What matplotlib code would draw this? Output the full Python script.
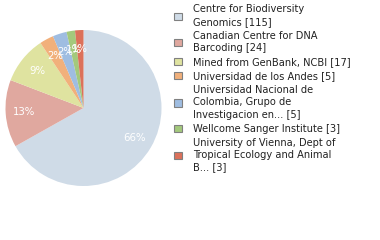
import matplotlib
matplotlib.use("Agg")
import matplotlib.pyplot as plt
from matplotlib.patches import Patch

labels = ["Centre for Biodiversity\nGenomics", "Canadian Centre for DNA\nBarcoding",
          "Mined from GenBank, NCBI", "Universidad de los Andes",
          "Universidad Nacional de\nColombia, Grupo de\nInvestigacion en...",
          "Wellcome Sanger Institute",
          "University of Vienna, Dept of\nTropical Ecology and Animal\nB..."]
counts = [115, 24, 17, 5, 5, 3, 3]
colors = ["#cfdbe7", "#e0a89f", "#dfe3a0", "#f1b07b", "#9fbde1", "#a3c97c", "#dc715a"]

total = sum(counts)
fig = plt.figure(figsize=(3.8, 2.4), dpi=100)
ax = fig.add_axes([5.5/380, 54/240, 156/380, 156/240])
wedges, texts, autotexts = ax.pie(
    counts, colors=colors, startangle=90, counterclock=False,
    autopct=lambda p: f"{int(p)}%", pctdistance=0.76,
    textprops=dict(color="white", fontsize=7.3, family="DejaVu Sans"),
    wedgeprops=dict(linewidth=0))
ax.set_xlim(-1, 1)
ax.set_ylim(-1, 1)
ax.set_aspect("equal")

handles = [Patch(facecolor=c, edgecolor="#808080", linewidth=0.8) for c in colors]
leg_labels = [f"{l} [{n}]" for l, n in zip(labels, counts)]
leg = fig.legend(handles, leg_labels, loc="upper left", bbox_to_anchor=(168/380, 1.0 + 2/240),
                 frameon=False, fontsize=7.1, handlelength=0.75, handleheight=0.75,
                 handletextpad=1.15, labelspacing=0.4, borderaxespad=0.25)
for t in leg.get_texts():
    t.set_color("#222222")
    t.set_linespacing(1.3)
fig.savefig("out.png", dpi=100)
